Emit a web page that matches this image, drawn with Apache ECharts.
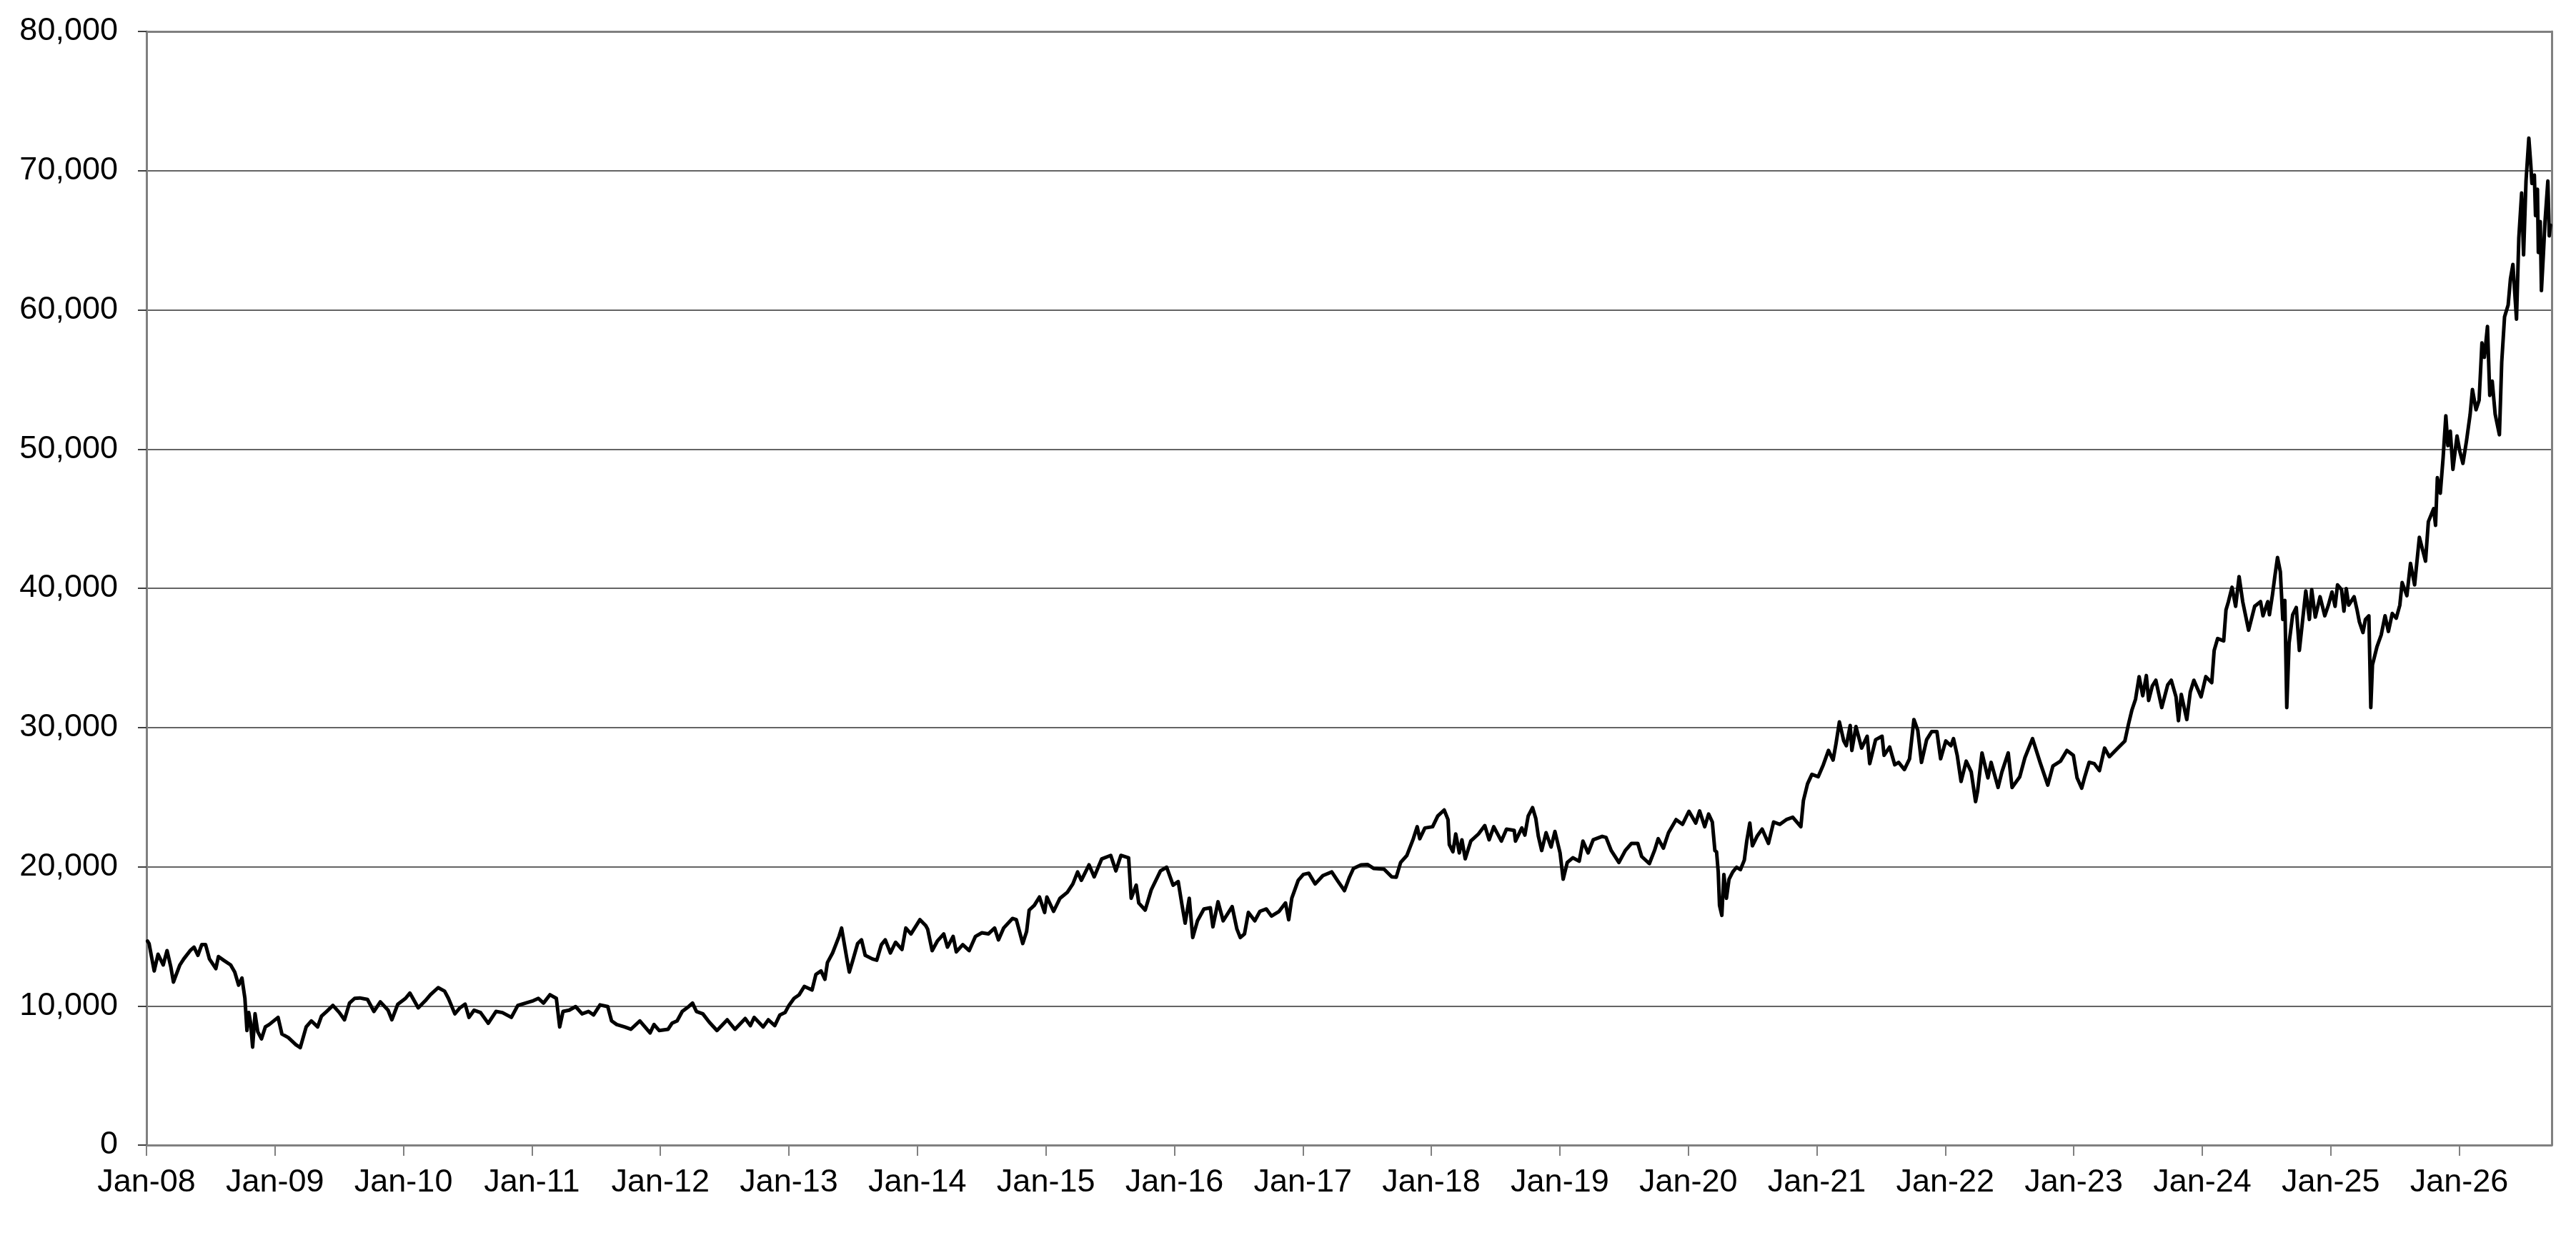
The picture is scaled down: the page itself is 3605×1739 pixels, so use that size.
<!DOCTYPE html>
<html>
<head>
<meta charset="utf-8">
<script src="https://cdn.jsdelivr.net/npm/echarts@6/dist/echarts.min.js"></script>
<style>
html,body{margin:0;padding:0;background:#fff;}
#chart{width:3605px;height:1739px;}
</style>
</head>
<body>
<div id="chart"></div>
<script>
// Time in decimal years
const years = [
2008.008,2008.02,2008.06,2008.09,2008.13,2008.16,2008.19,2008.21,2008.26,2008.29,2008.34,2008.37,2008.40,2008.43,2008.46,2008.49,2008.54,2008.56,2008.60,2008.655,2008.687,2008.717,2008.743,2008.766,2008.782,2008.796,2008.81,2008.826,2008.845,2008.866,2008.895,2008.925,2008.955,
2009.024,2009.054,2009.104,2009.163,2009.197,2009.243,2009.283,2009.332,2009.362,2009.402,2009.451,2009.501,2009.541,2009.58,2009.62,2009.66,2009.72,2009.77,2009.82,2009.88,2009.91,2009.956,
2010.016,2010.05,2010.115,2010.17,2010.21,2010.27,2010.32,2010.35,2010.40,2010.44,2010.48,2010.51,2010.55,2010.60,2010.66,2010.72,2010.77,2010.84,2010.89,2010.95,
2011.01,2011.05,2011.09,2011.14,2011.19,2011.216,2011.242,2011.29,2011.34,2011.39,2011.44,2011.48,2011.53,2011.59,2011.62,2011.66,2011.72,2011.77,2011.84,2011.92,2011.95,2011.99,
2012.06,2012.09,2012.13,2012.17,2012.22,2012.25,2012.28,2012.33,2012.38,2012.44,2012.52,2012.58,2012.66,2012.70,2012.73,2012.80,2012.84,2012.89,2012.93,2012.97,
2013.00,2013.04,2013.08,2013.12,2013.18,2013.21,2013.25,2013.28,2013.30,2013.34,2013.39,2013.41,2013.45,2013.47,2013.495,2013.535,2013.565,2013.594,2013.65,2013.684,2013.72,2013.75,2013.79,2013.83,2013.88,2013.91,2013.95,
2014.02,2014.065,2014.08,2014.115,2014.155,2014.205,2014.234,2014.278,2014.303,2014.353,2014.403,2014.452,2014.502,2014.552,2014.601,2014.631,2014.671,2014.74,2014.77,2014.82,2014.85,2014.87,2014.91,2014.95,2014.99,
2015.008,2015.06,2015.11,2015.167,2015.21,2015.247,2015.276,2015.336,2015.376,2015.435,2015.505,2015.545,2015.584,2015.644,2015.664,2015.703,2015.723,2015.773,2015.82,2015.892,2015.94,2015.99,
2016.03,2016.06,2016.084,2016.116,2016.143,2016.18,2016.23,2016.28,2016.30,2016.34,2016.38,2016.45,2016.487,2016.513,2016.546,2016.576,2016.626,2016.666,2016.716,2016.756,2016.815,2016.865,2016.89,2016.914,2016.964,
2017.004,2017.046,2017.096,2017.156,2017.225,2017.275,2017.324,2017.364,2017.394,2017.453,2017.503,2017.553,2017.632,2017.692,2017.727,2017.761,2017.81,2017.86,2017.89,2017.91,2017.95,
2018.01,2018.05,2018.10,2018.13,2018.14,2018.168,2018.19,2018.218,2018.238,2018.264,2018.307,2018.367,2018.416,2018.45,2018.486,2018.545,2018.585,2018.645,2018.655,2018.704,2018.728,2018.754,2018.788,2018.813,2018.833,2018.859,2018.893,2018.932,2018.962,
2019.002,2019.026,2019.058,2019.101,2019.151,2019.18,2019.22,2019.26,2019.33,2019.36,2019.40,2019.46,2019.51,2019.558,2019.607,2019.637,2019.697,2019.737,2019.766,2019.806,2019.846,2019.905,2019.955,
2020.005,2020.058,2020.088,2020.128,2020.158,2020.187,2020.207,2020.22,2020.233,2020.243,2020.261,2020.277,2020.297,2020.317,2020.346,2020.376,2020.406,2020.436,2020.455,2020.479,2020.499,2020.535,2020.575,2020.624,2020.664,2020.713,2020.763,2020.813,2020.876,2020.896,2020.928,2020.962,
2021.011,2021.051,2021.091,2021.127,2021.15,2021.176,2021.21,2021.23,2021.26,2021.273,2021.305,2021.349,2021.392,2021.412,2021.458,2021.508,2021.524,2021.567,2021.607,2021.637,2021.682,2021.722,2021.756,2021.786,2021.815,2021.855,2021.895,2021.935,2021.964,
2022.004,2022.044,2022.064,2022.093,2022.123,2022.163,2022.202,2022.236,2022.252,2022.286,2022.332,2022.357,2022.411,2022.441,2022.49,2022.52,2022.58,2022.62,2022.679,2022.738,2022.798,2022.838,2022.897,2022.947,2022.997,
2023.026,2023.062,2023.086,2023.12,2023.16,2023.20,2023.24,2023.277,2023.315,2023.352,2023.398,2023.426,2023.453,2023.481,2023.509,2023.537,2023.565,2023.583,2023.611,2023.639,2023.685,2023.731,2023.759,2023.796,2023.815,2023.837,2023.88,2023.907,2023.935,2023.991,
2024.028,2024.074,2024.093,2024.12,2024.167,2024.185,2024.204,2024.232,2024.26,2024.287,2024.315,2024.361,2024.408,2024.454,2024.473,2024.51,2024.523,2024.547,2024.565,2024.586,2024.608,2024.627,2024.643,2024.658,2024.676,2024.704,2024.732,2024.756,2024.782,2024.806,2024.834,2024.852,2024.88,2024.917,2024.954,2024.982,
2025.01,2025.034,2025.053,2025.084,2025.103,2025.121,2025.14,2025.182,2025.205,2025.223,2025.251,2025.27,2025.297,2025.312,2025.325,2025.36,2025.393,2025.423,2025.449,2025.479,2025.51,2025.538,2025.556,2025.593,2025.621,2025.653,2025.69,2025.738,2025.76,2025.801,2025.816,2025.83,2025.853,2025.875,2025.896,2025.912,2025.931,2025.951,2025.983,
2026.005,2026.029,2026.057,2026.085,2026.103,2026.131,2026.155,2026.177,2026.196,2026.22,2026.238,2026.257,2026.28,2026.313,2026.331,2026.353,2026.381,2026.399,2026.418,2026.446,2026.464,2026.486,2026.501,2026.52,2026.542,2026.557,2026.566,2026.585,2026.594,2026.609,2026.616,2026.631,2026.64,2026.655,2026.668,2026.69,2026.701,2026.71
];

const values = [
14650,14480,12510,13710,12940,13970,12770,11710,12940,13370,13970,14220,13630,14400,14400,13370,12680,13540,13280,12940,12430,11490,12000,10540,8230,9520,8800,7040,9430,8150,7630,8490,8660,
9170,7980,7720,7210,7000,8490,8920,8490,9260,9600,10030,9520,9000,10200,10540,10570,10460,9600,10290,9690,9000,10120,
10540,10920,9860,10370,10800,11310,11060,10540,9430,9860,10120,9170,9690,9520,8750,9600,9520,9170,10030,10200,
10370,10540,10200,10800,10540,8490,9600,9690,9950,9430,9600,9350,10070,9950,8920,8660,8490,8320,8920,8060,8660,8230,
8320,8750,8920,9600,9950,10200,9600,9430,8830,8230,9000,8320,9090,8580,9170,8490,9000,8580,9350,9520,
10030,10540,10800,11400,11140,12260,12510,11910,13110,13800,14990,15590,13450,12430,13200,14480,14740,13630,13370,13280,14400,14740,13800,14570,14050,15590,15170,
16190,15760,15510,13970,14650,15170,14220,14990,13880,14400,13970,14990,15250,15170,15590,14740,15590,16280,16190,14480,15340,16880,17220,17820,16710,
17820,16790,17730,18160,18760,19620,19020,20130,19270,20560,20810,19700,20810,20640,17730,18670,17390,16880,18330,19700,19960,18670,
18930,17220,15940,17730,14910,16110,16960,17050,15680,17480,16110,17130,15510,14910,15170,16710,16110,16790,16960,16450,16790,17390,16190,17730,19020,
19440,19530,18760,19360,19620,18930,18280,19270,19870,20130,20160,19870,19820,19270,19240,20300,20810,22010,22870,22010,22780,
22870,23640,24070,23380,21580,21070,22350,20990,21930,20560,21840,22350,22950,21930,22870,21840,22700,22610,21840,22780,22270,23640,24240,23470,22180,21160,22440,21410,22530,
20990,19100,20300,20640,20390,21840,20990,21930,22180,22100,21160,20300,21160,21670,21670,20730,20220,21160,22010,21330,22440,23380,23040,
23980,23130,24000,22870,23780,23210,21160,21070,19620,17220,16500,19440,17730,19100,19620,19960,19790,20470,21840,23130,21500,22180,22700,21670,23210,23040,23380,23550,22870,24750,25950,26630,
26460,27320,28350,27660,28860,30400,29030,28690,30140,28350,30060,28520,29370,27400,29120,29370,28000,28600,27320,27490,26980,27750,30570,29800,27490,29120,29710,29710,27750,
29030,28690,29200,28000,26120,27580,26810,24670,25440,28170,26380,27490,25690,26810,28170,25690,26460,27830,29200,27490,25860,27230,27580,28350,28000,
26380,25640,26460,27500,27400,26900,28520,27900,28260,28600,29030,30230,31260,32030,33650,32280,33730,31940,32970,33390,31430,33050,33390,32200,30490,32370,30570,32540,33390,32200,
33650,33220,35530,36390,36220,38450,39040,40070,38700,40840,39040,36990,38700,39040,38020,39040,38100,39560,40840,42210,41180,37760,39130,31430,36050,38100,38620,35530,37760,39810,37760,39900,37930,39390,38020,38790,
39730,38700,40240,39900,38360,39980,38790,39390,38450,37590,36820,37760,38020,31430,34500,35800,36650,38020,36900,38190,37850,38790,40410,39470,41780,40240,43660,41950,44780,45720,44520,47940,46830,49400,52390,50250,51280,48540,50940,
49830,48970,50600,52480,54280,52820,53500,57620,56590,58810,53850,54880,52500,51030,56250,59500,60350,62240,63260,59330,65150,68400,63950,69250,72340,70450,69080,69680,66770,68660,64120,66340,61380,63950,66340,69250,65320,66090
];

const tickYears = [2008,2009,2010,2011,2012,2013,2014,2015,2016,2017,2018,2019,2020,2021,2022,2023,2024,2025,2026];
const tickLabels = ['Jan-08','Jan-09','Jan-10','Jan-11','Jan-12','Jan-13','Jan-14','Jan-15','Jan-16','Jan-17','Jan-18','Jan-19','Jan-20','Jan-21','Jan-22','Jan-23','Jan-24','Jan-25','Jan-26'];

const seriesData = years.map((t, i) => [t, values[i]]);
const FONT = '"Liberation Sans", Arial, sans-serif';

const chart = echarts.init(document.getElementById('chart'), null, {renderer: 'canvas'});
chart.setOption({
  animation: false,
  backgroundColor: '#ffffff',
  grid: {
    left: 205, right: 34, top: 44, bottom: 137,
    containLabel: false,
    outerBoundsMode: 'none',
    show: false
  },
  xAxis: [{
    type: 'value',
    min: 2008,
    max: 2026.72,
    position: 'bottom',
    axisLine: {show: true, onZero: false, lineStyle: {color: '#808080', width: 3}},
    axisTick: {show: true, customValues: tickYears, length: 15, inside: false, lineStyle: {color: '#808080', width: 2}},
    axisLabel: {
      show: true,
      customValues: tickYears,
      margin: 30,
      fontFamily: FONT,
      fontSize: 45,
      color: '#000',
      formatter: v => { const i = tickYears.indexOf(Math.round(v)); return i >= 0 ? tickLabels[i] : ''; }
    },
    splitLine: {show: false}
  }, {
    type: 'value',
    min: 2008,
    max: 2026.72,
    position: 'top',
    axisLine: {show: true, onZero: false, lineStyle: {color: '#808080', width: 3}},
    axisTick: {show: false},
    axisLabel: {show: false},
    splitLine: {show: false}
  }],
  yAxis: [{
    type: 'value',
    min: 0,
    max: 80000,
    interval: 10000,
    position: 'left',
    axisLine: {show: true, onZero: false, lineStyle: {color: '#808080', width: 3}},
    axisTick: {show: true, length: 12, inside: false, lineStyle: {color: '#404040', width: 2}},
    axisLabel: {
      margin: 40,
      fontFamily: FONT,
      fontSize: 45,
      color: '#000',
      formatter: v => v.toLocaleString('en-US')
    },
    splitLine: {show: true, showMinLine: false, showMaxLine: false, lineStyle: {color: '#303030', width: 1.5}}
  }, {
    type: 'value',
    min: 0,
    max: 80000,
    interval: 10000,
    position: 'right',
    axisLine: {show: true, onZero: false, lineStyle: {color: '#808080', width: 3}},
    axisTick: {show: false},
    axisLabel: {show: false},
    splitLine: {show: false}
  }],
  series: [{
    type: 'line',
    xAxisIndex: 0,
    yAxisIndex: 0,
    data: seriesData,
    showSymbol: false,
    symbol: 'none',
    smooth: false,
    lineStyle: {color: '#000000', width: 5, join: 'round', cap: 'round'},
    z: 5
  }]
});
</script>
</body>
</html>
